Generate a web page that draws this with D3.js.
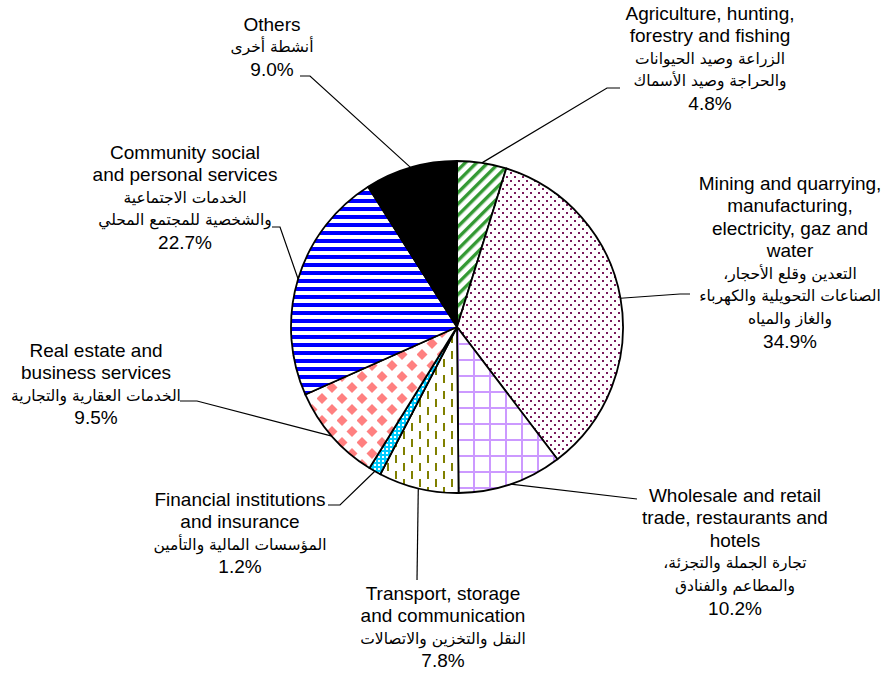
<!DOCTYPE html>
<html>
<head>
<meta charset="utf-8">
<script src="https://cdn.jsdelivr.net/npm/d3@7"></script>
<style>
  body { margin: 0; background: #fff; }
  svg { display: block; }
  .lbl { font-family: Arial, 'Liberation Sans', sans-serif; fill: #000; }
  .ar { font-family: 'DejaVu Sans', Arial, sans-serif; }
</style>
</head>
<body>
<div id="pie-chart"></div>
<script>
// sectors, clockwise from 12 o'clock
const categories = [
  ['Agriculture, hunting,', 'forestry and fishing'],
  ['Mining and quarrying,', 'manufacturing,', 'electricity, gaz and', 'water'],
  ['Wholesale and retail', 'trade, restaurants and', 'hotels'],
  ['Transport, storage', 'and communication'],
  ['Financial institutions', 'and insurance'],
  ['Real estate and', 'business services'],
  ['Community social', 'and personal services'],
  ['Others']
];
const categoriesAr = [
  ['الزراعة وصيد الحيوانات', 'والحراجة وصيد الأسماك'],
  ['التعدين وقلع الأحجار،', 'الصناعات التحويلية والكهرباء', 'والغاز والمياه'],
  ['تجارة الجملة والتجزئة،', 'والمطاعم والفنادق'],
  ['النقل والتخزين والاتصالات'],
  ['المؤسسات المالية والتأمين'],
  ['الخدمات العقارية والتجارية'],
  ['الخدمات الاجتماعية', 'والشخصية للمجتمع المحلي'],
  ['أنشطة أخرى']
];
const values = [4.8, 34.9, 10.2, 7.8, 1.2, 9.5, 22.7, 9.0];
const fills = ['url(#p-agri)', 'url(#p-mining)', 'url(#p-trade)', 'url(#p-transport)',
  'url(#p-finance)', 'url(#p-realestate)', 'url(#p-community)', '#000'];

// label block: centre x, first line y, elbow point, end of leader
const labelLayout = [
  { x: 710, y: 13, elbow: [607, 88], end: [620, 88] },
  { x: 790, y: 183, elbow: [680, 294], end: [690, 294] },
  { x: 735, y: 495, elbow: [637, 499], end: [637, 499] },
  { x: 443, y: 593, elbow: [417, 580], end: [417, 580] },
  { x: 240, y: 499, elbow: [340, 505], end: [328, 505] },
  { x: 96, y: 350, elbow: [197, 401], end: [180, 401] },
  { x: 185, y: 152, elbow: [280, 227], end: [272, 227] },
  { x: 272, y: 24, elbow: [310, 76], end: [300, 76] }
];

const width = 888;
const height = 674;
const cx = 457;
const cy = 327;
const radius = 166;
const lineH = 22.6;

const svg = d3.select('#pie-chart')
  .append('svg')
  .attr('width', width)
  .attr('height', height);

// fill patterns
const defs = svg.append('defs');
const pat = (id, w, h) => defs.append('pattern')
  .attr('id', id)
  .attr('patternUnits', 'userSpaceOnUse')
  .attr('width', w)
  .attr('height', h);

const agri = pat('p-agri', 8, 8).attr('patternTransform', 'rotate(45)');
agri.append('rect').attr('width', 8).attr('height', 8).attr('fill', '#fff');
agri.append('rect').attr('width', 3.4).attr('height', 8).attr('fill', '#339933');

const mining = pat('p-mining', 8, 8);
mining.append('rect').attr('width', 8).attr('height', 8).attr('fill', '#fff');
mining.append('rect').attr('x', 1).attr('y', 1).attr('width', 2).attr('height', 2).attr('fill', '#7a1a5c');
mining.append('rect').attr('x', 5).attr('y', 5).attr('width', 2).attr('height', 2).attr('fill', '#7a1a5c');

const trade = pat('p-trade', 16, 16);
trade.append('rect').attr('width', 16).attr('height', 16).attr('fill', '#fff');
trade.append('rect').attr('width', 2).attr('height', 16).attr('fill', '#cc99ff');
trade.append('rect').attr('width', 16).attr('height', 2).attr('fill', '#cc99ff');

const transport = pat('p-transport', 16, 16);
transport.append('rect').attr('width', 16).attr('height', 16).attr('fill', '#fff');
transport.append('rect').attr('x', 2).attr('y', 0).attr('width', 2).attr('height', 8).attr('fill', '#808000');
transport.append('rect').attr('x', 10).attr('y', 8).attr('width', 2).attr('height', 8).attr('fill', '#808000');

const finance = pat('p-finance', 4, 4);
finance.append('rect').attr('width', 4).attr('height', 4).attr('fill', '#00ccff');
finance.append('rect').attr('x', 1).attr('y', 1).attr('width', 2).attr('height', 2).attr('fill', '#fff');

const realestate = pat('p-realestate', 20, 22);
realestate.append('rect').attr('width', 20).attr('height', 22).attr('fill', '#fff');
[[5, 5.5], [15, 16.5], [-5, 16.5], [25, 16.5], [15, -5.5], [5, 27.5]].forEach(([x, y]) => {
  realestate.append('path')
    .attr('d', `M${x},${y - 5.5}L${x + 5.5},${y}L${x},${y + 5.5}L${x - 5.5},${y}Z`)
    .attr('fill', '#ff8080');
});

const community = pat('p-community', 8, 8);
community.append('rect').attr('width', 8).attr('height', 8).attr('fill', '#fff');
community.append('rect').attr('y', 0).attr('width', 8).attr('height', 4).attr('fill', '#0000ff');

const pie = d3.pie().sort(null).value(d => d);
const arcs = pie(values);
const arc = d3.arc().innerRadius(0).outerRadius(radius);
const edge = d3.arc().innerRadius(radius).outerRadius(radius);

const g = svg.append('g').attr('transform', `translate(${cx},${cy})`);

g.selectAll('path.slice')
  .data(arcs)
  .enter()
  .append('path')
  .attr('class', 'slice')
  .attr('d', arc)
  .attr('fill', (d, i) => fills[i])
  .attr('stroke', '#000')
  .attr('stroke-width', 1.8)
  .attr('stroke-linejoin', 'round');

// leader lines
svg.selectAll('polyline.leader')
  .data(arcs)
  .enter()
  .append('polyline')
  .attr('class', 'leader')
  .attr('points', (d, i) => {
    const [ex, ey] = edge.centroid(d);
    const l = labelLayout[i];
    return [[cx + ex, cy + ey], l.elbow, l.end].map(p => p.join(',')).join(' ');
  })
  .attr('fill', 'none')
  .attr('stroke', '#000')
  .attr('stroke-width', 1.2);

// labels
const fmt = d3.format('.1f');
arcs.forEach((d, i) => {
  const l = labelLayout[i];
  const lines = [
    ...categories[i].map(t => ({ t, ar: false })),
    ...categoriesAr[i].map(t => ({ t, ar: true })),
    { t: `${fmt(values[i])}%`, ar: false }
  ];
  const txt = svg.append('g').attr('class', 'lbl');
  lines.forEach((ln, k) => {
    txt.append('text')
      .attr('class', ln.ar ? 'ar' : null)
      .attr('x', l.x)
      .attr('y', l.y + k * lineH)
      .attr('dy', '0.35em')
      .attr('text-anchor', 'middle')
      .attr('direction', ln.ar ? 'rtl' : null)
      .style('font-size', ln.ar ? '15.5px' : '19px')
      .text(ln.t);
  });
});
</script>
</body>
</html>
